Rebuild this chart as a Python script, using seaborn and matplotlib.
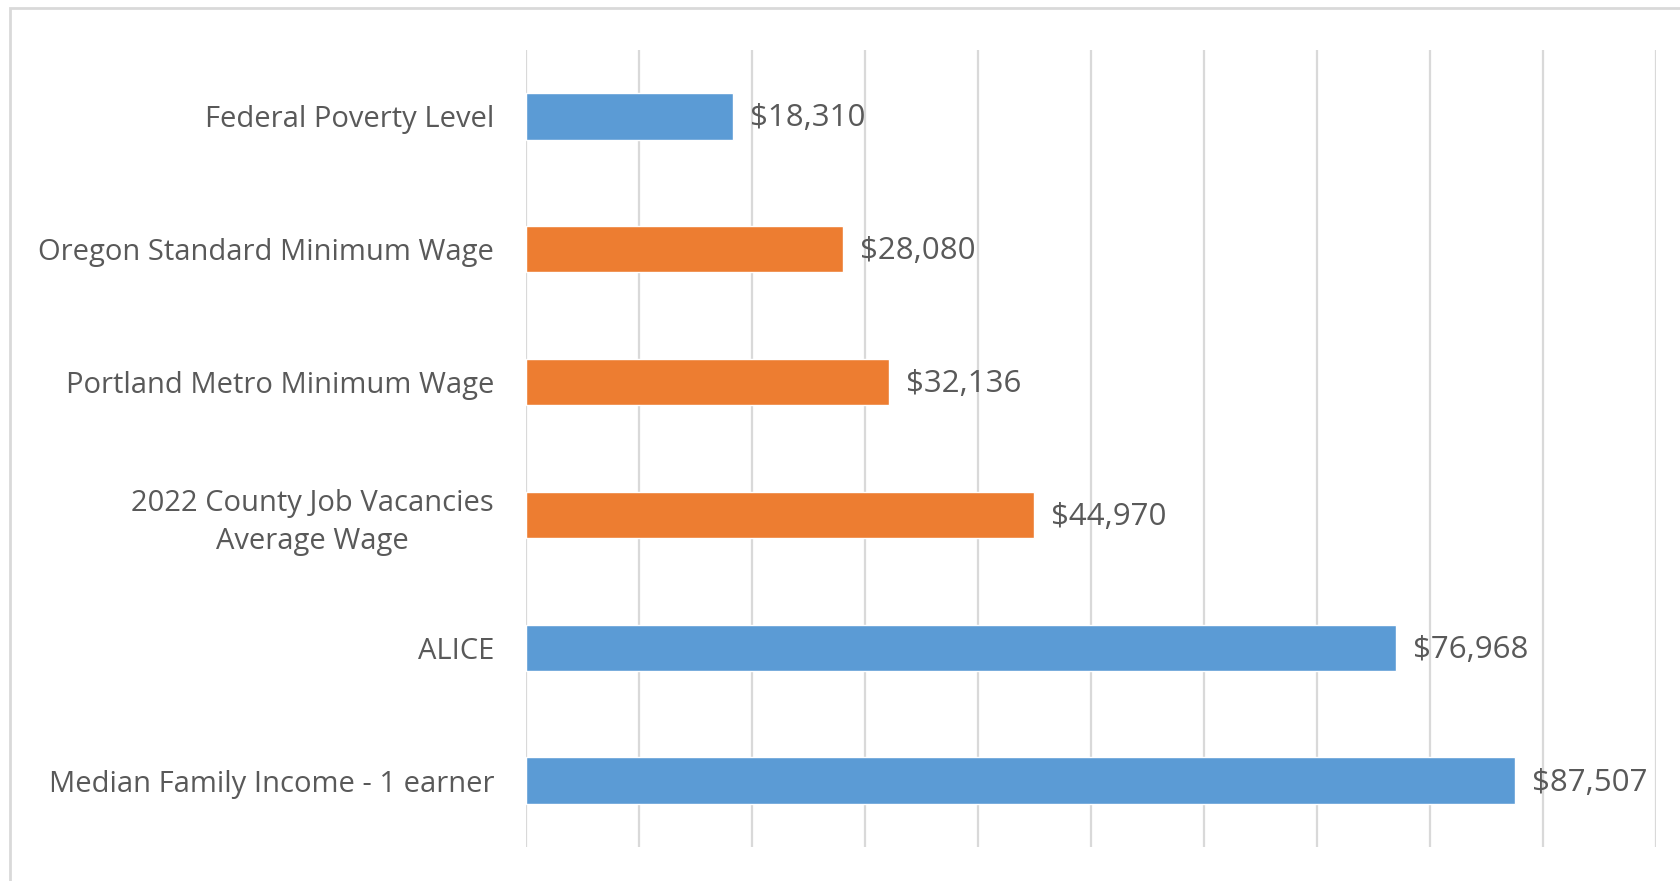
import matplotlib
matplotlib.use("Agg")
import matplotlib.pyplot as plt
import seaborn as sns
from matplotlib.patches import Rectangle

categories = ['Federal Poverty Level', 'Oregon Standard Minimum Wage',
              'Portland Metro Minimum Wage', '2022 County Job Vacancies\nAverage Wage',
              'ALICE', 'Median Family Income - 1 earner']
values = [18310, 28080, 32136, 44970, 76968, 87507]
labels = ['$18,310', '$28,080', '$32,136', '$44,970', '$76,968', '$87,507']
bar_colors = ['#5B9BD5', '#ED7D31', '#ED7D31', '#ED7D31', '#5B9BD5', '#5B9BD5']

sns.set_style('white')
plt.rcParams['font.family'] = ['Open Sans', 'DejaVu Sans']
text_color = '#595959'

fig = plt.figure(figsize=(16.81, 8.81), dpi=100)
ax = fig.add_axes([526 / 1681, 34 / 881, 1130 / 1681, 797 / 881])

sns.barplot(x=values, y=categories, hue=categories, palette=bar_colors,
            legend=False, width=0.35, saturation=1, ax=ax)

ax.set_xlim(0, 100000)
ax.set_ylim(5.5, -0.5)
ax.set_xticks(range(0, 100001, 10000))
ax.set_xticklabels([])
ax.grid(axis='x', color='#D9D9D9', linewidth=1.6)
ax.set_axisbelow(True)
for s in ax.spines.values():
    s.set_visible(False)
ax.tick_params(axis='y', length=0, pad=23, labelsize=21, labelcolor=text_color)
ax.tick_params(axis='x', length=0)
for t in ax.get_yticklabels():
    t.set_multialignment('center')
    t.set_linespacing(1.4)
ax.set_xlabel('')
ax.set_ylabel('')

for i, (v, lab) in enumerate(zip(values, labels)):
    ax.annotate(lab, xy=(v, i), xytext=(17, -2), textcoords='offset pixels',
                va='center', ha='left', fontsize=22.5, color=text_color)

# chart-area border
fig.patches.append(Rectangle((10 / 1681, -0.1), 1.2, 1 - 8 / 881 + 0.1,
                             transform=fig.transFigure, fill=False,
                             edgecolor='#D9D9D9', linewidth=2, zorder=0))

fig.savefig('out.png', dpi=100, facecolor='white')
